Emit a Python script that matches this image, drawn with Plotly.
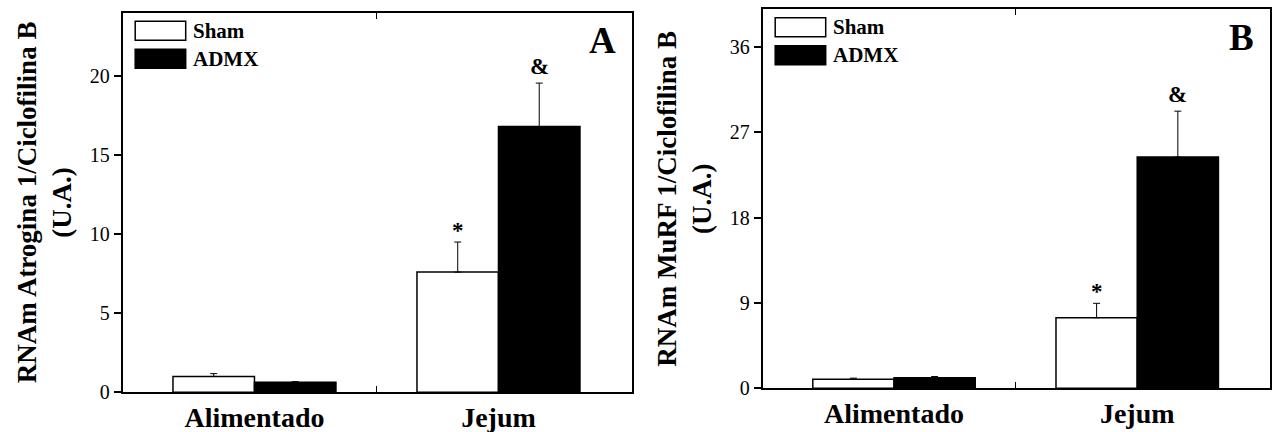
import plotly.graph_objects as go

# ---------------- data ----------------
categories = ["Alimentado", "Jejum"]
series_names = ["Sham", "ADMX"]
series_fill = ["white", "black"]

atrogina_sham = [1.0, 7.6]
atrogina_sham_err = [0.18, 1.9]
atrogina_admx = [0.63, 16.8]
atrogina_admx_err = [0.04, 2.75]

murf_sham = [0.95, 7.45]
murf_sham_err = [0.12, 1.52]
murf_admx = [1.12, 24.4]
murf_admx_err = [0.12, 4.85]

# significance marks (per series, per category)
atrogina_marks = [["", "*"], ["", "&"]]
murf_marks = [["", "*"], ["", "&"]]

y_title_A = "RNAm Atrogina 1/Ciclofilina B<br>(U.A.)"
y_title_B = "RNAm MuRF 1/Ciclofilina B<br>(U.A.)"
yticks_A = [0, 5, 10, 15, 20]
yticks_B = [0, 9, 18, 27, 36]
panel_labels = ["A", "B"]

# ---------------- layout constants ----------------
W, H = 1272, 432
FONT = "Liberation Serif, Times New Roman, Times, serif"
BARGAP = 0.332
XRANGE = [-0.54, 1.546]
MARK_SHIFT = {"*": -3, "&": 2}

panels = [
    dict(L=122.7, R=631.7, T=12.7, B=392.3, ymax=24.0,
         vals=[atrogina_sham, atrogina_admx], errs=[atrogina_sham_err, atrogina_admx_err],
         marks=atrogina_marks, title=y_title_A, ticks=yticks_A),
    dict(L=762.7, R=1270.0, T=9.3, B=388.3, ymax=40.0,
         vals=[murf_sham, murf_admx], errs=[murf_sham_err, murf_admx_err],
         marks=murf_marks, title=y_title_B, ticks=yticks_B),
]

fig = go.Figure()
xpos = list(range(len(categories)))
annotations = []
shapes = []

for i, p in enumerate(panels):
    n = "" if i == 0 else str(i + 1)
    xa, ya = "x" + n, "y" + n
    for s in range(len(series_names)):
        fig.add_trace(go.Bar(
            x=xpos, y=p["vals"][s], name=series_names[s],
            marker=dict(color=series_fill[s], line=dict(color="black", width=1.5)),
            error_y=dict(type="data", array=p["errs"][s], arrayminus=[0] * len(xpos),
                         symmetric=False, color="black", thickness=1, width=3.5),
            offsetgroup=str(s), xaxis=xa, yaxis=ya, showlegend=False,
        ))
        off = (1 - BARGAP) / 4 * (-1 if s == 0 else 1)
        for k, m in enumerate(p["marks"][s]):
            if m:
                annotations.append(dict(
                    x=xpos[k] + off, y=p["vals"][s][k] + p["errs"][s][k],
                    xref=xa, yref=ya, text=m, showarrow=False,
                    yanchor="bottom", xanchor="center", yshift=MARK_SHIFT.get(m, 0),
                    font=dict(family=FONT, size=23, color="black", weight="bold")))

    axis_common = dict(showline=True, linecolor="black", linewidth=2,
                       showgrid=False, zeroline=False, automargin=False)
    fig.layout["xaxis" + n] = dict(
        axis_common, domain=[p["L"] / W, p["R"] / W], anchor=ya,
        range=XRANGE, tickmode="array", tickvals=xpos, ticktext=categories,
        ticks="", ticklabelstandoff=-1,
        tickfont=dict(family=FONT, size=28, color="black", weight="bold"),
        minor=dict(tickmode="array", tickvals=[0.5], ticks="inside", ticklen=6,
                   tickwidth=1, tickcolor="black"),
        mirror="allticks",
    )
    fig.layout["yaxis" + n] = dict(
        axis_common, domain=[1 - p["B"] / H, 1 - p["T"] / H], anchor=xa,
        range=[0, p["ymax"]], tickmode="array", tickvals=p["ticks"],
        ticks="outside", ticklen=7, tickwidth=1.5, tickcolor="black", mirror=True,
        tickfont=dict(family=FONT, size=20, color="black"),
        title=dict(text=p["title"], standoff=10,
                   font=dict(family=FONT, size=27, color="black", weight="bold")),
    )

    # legend keys (drawn inside each panel's top-left corner)
    for s in range(len(series_names)):
        top = p["T"] + 8.5 + s * 28
        shapes.append(dict(type="rect", xref="paper", yref="paper",
                           x0=(p["L"] + 12.5) / W, x1=(p["L"] + 63) / W,
                           y0=1 - top / H, y1=1 - (top + 19) / H,
                           fillcolor=series_fill[s], line=dict(color="black", width=1.5)))
        annotations.append(dict(
            x=(p["L"] + 68) / W, y=1 - (top + 9.5) / H, xref="paper", yref="paper",
            text=series_names[s], showarrow=False, xanchor="left", yanchor="middle",
            font=dict(family=FONT, size=21, color="black", weight="bold")))

    annotations.append(dict(
        x=(p["R"] - 29) / W, y=1 - (p["T"] + 28) / H, xref="paper", yref="paper",
        text=panel_labels[i], showarrow=False, xanchor="center", yanchor="middle",
        font=dict(family=FONT, size=37, color="black", weight="bold")))

fig.update_layout(
    width=W, height=H, margin=dict(l=0, r=0, t=0, b=0, autoexpand=False),
    paper_bgcolor="white", plot_bgcolor="white",
    barmode="group", bargap=BARGAP, bargroupgap=0,
    annotations=annotations, shapes=shapes, showlegend=False,
)

fig.write_html("out.html")
